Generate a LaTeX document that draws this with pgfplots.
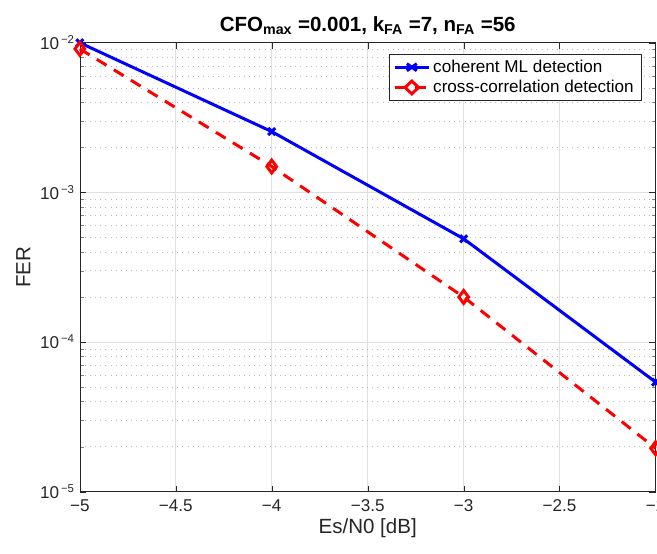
\documentclass[border=0pt]{standalone}
\usepackage{pgfplots}
\pgfplotsset{compat=1.18}
\usepackage{fontspec}
\setmainfont{Liberation Sans}
\usetikzlibrary{calc}
\definecolor{mgray}{rgb}{0.15,0.15,0.15}
\begin{document}
\begin{tikzpicture}
\begin{axis}[
    width=404pt, height=315pt,
    scale only axis,
    ymode=log,
    xmin=-5, xmax=-2,
    ymin=1e-5, ymax=1e-2,
    xtick={-5,-4.5,-4,-3.5,-3,-2.5,-2},
    xticklabels={−5,−4.5,−4,−3.5,−3,−2.5,−2},
    ytick={1e-5,1e-4,1e-3,1e-2},
    yticklabels={10\textsuperscript{\,−5},10\textsuperscript{\,−4},10\textsuperscript{\,−3},10\textsuperscript{\,−2}},
    tick label style={font=\large, text=mgray},
    xticklabel style={yshift=-2pt},
    tick align=inside,
    axis line style={mgray},
    major tick style={mgray},
    xmajorgrids, ymajorgrids, yminorgrids,
    major grid style={gray!25},
    minor grid style={gray!55, dash pattern=on 0.6pt off 3pt},
    xlabel={Es/N0 [dB]},
    ylabel={FER},
    label style={font=\Large, text=mgray},
    xlabel style={yshift=2pt},
    title={\bfseries CFO\textsubscript{max} =0.001, k\textsubscript{FA} =7, n\textsubscript{FA} =56},
    title style={font=\Large, yshift=-4pt},
    legend style={at={(0.975,0.975)}, anchor=north east, font=\large, draw=mgray, cells={anchor=west}},
    legend image post style={xscale=1.4},
    legend cell align=left,
    clip=false,
]
\addplot[blue, line width=2.1pt, mark=x, mark size=3.5pt, mark options={solid}]
    coordinates {(-5,1.0e-2)(-4,2.55e-3)(-3,4.9e-4)(-2,5.4e-5)};
\addlegendentry{coherent ML detection}
\addplot[red, line width=2.1pt, dash pattern=on 8pt off 6pt, mark=diamond, mark size=4.5pt, mark options={solid, fill=white}]
    coordinates {(-5,9.1e-3)(-4,1.49e-3)(-3,2.0e-4)(-2,1.95e-5)};
\addlegendentry{cross-correlation detection}
\end{axis}
\pgfresetboundingbox
\useasboundingbox ($(current axis.south west)+(-56pt,-43.4pt)$) rectangle ($(current axis.north east)+(1pt,30pt)$);
\end{tikzpicture}
\end{document}
